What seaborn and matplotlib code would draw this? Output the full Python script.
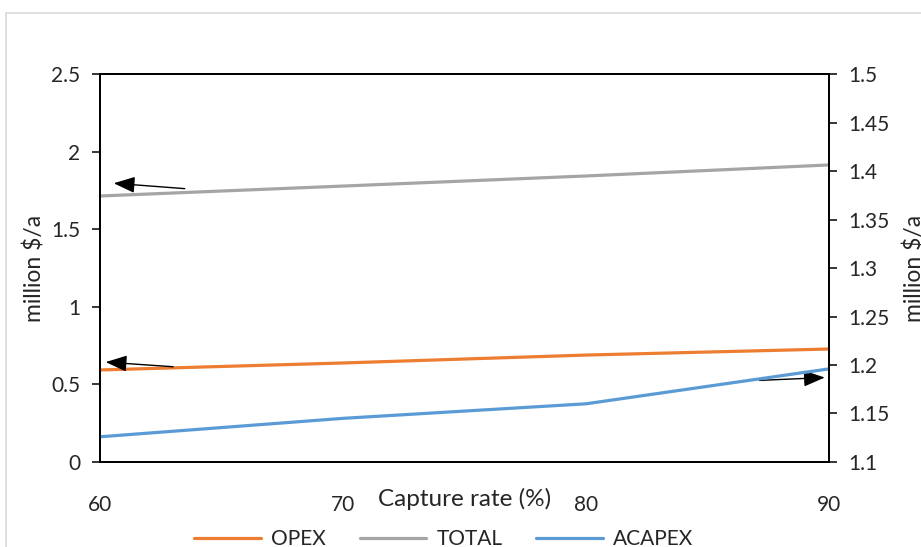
import matplotlib
matplotlib.use("Agg")
import matplotlib.pyplot as plt
import seaborn as sns
import pandas as pd
from matplotlib.patches import Rectangle

capture_rate = [60, 70, 80, 90]
opex = [0.593, 0.638, 0.689, 0.728]
total = [1.714, 1.778, 1.843, 1.914]
acapex = [1.126, 1.145, 1.160, 1.196]

x_ticks = [60, 70, 80, 90]
left_ticks = [0, 0.5, 1, 1.5, 2, 2.5]
left_labels = ["0", "0.5", "1", "1.5", "2", "2.5"]
right_ticks = [1.1, 1.15, 1.2, 1.25, 1.3, 1.35, 1.4, 1.45, 1.5]
right_labels = ["1.1", "1.15", "1.2", "1.25", "1.3", "1.35", "1.4", "1.45", "1.5"]

df = pd.DataFrame({"rate": capture_rate, "OPEX": opex, "TOTAL": total, "ACAPEX": acapex})

sns.set_style("white")
plt.rcParams["font.family"] = ["Lato", "DejaVu Sans"]

fig = plt.figure(figsize=(9.21, 5.47), dpi=100)
ax = fig.add_axes([0.1086, 0.1554, 0.7915, 0.7093])
ax2 = ax.twinx()

# light frame of the chart area
fig.patches.append(Rectangle((6 / 921, -0.1), 1.1, 1 - 13 / 547 + 0.1, transform=fig.transFigure,
                             fill=False, edgecolor="#d9d9d9", linewidth=1.2))

sns.lineplot(data=df, x="rate", y="OPEX", ax=ax, color="#ED7D31", linewidth=2.3, label="OPEX", legend=False)
sns.lineplot(data=df, x="rate", y="TOTAL", ax=ax, color="#A5A5A5", linewidth=2.3, label="TOTAL", legend=False)
sns.lineplot(data=df, x="rate", y="ACAPEX", ax=ax2, color="#5B9BD5", linewidth=2.3, label="ACAPEX", legend=False)

ax.set_xlim(60, 90)
ax.set_ylim(0, 2.5)
ax2.set_ylim(1.1, 1.5)
ax.set_xticks(x_ticks)
ax.set_yticks(left_ticks)
ax.set_yticklabels(left_labels)
ax2.set_yticks(right_ticks)
ax2.set_yticklabels(right_labels)

for a in (ax, ax2):
    for s in a.spines.values():
        s.set_color("black")
        s.set_linewidth(1.3)

ax.tick_params(axis="x", length=0, pad=24, labelsize=15)
ax.tick_params(axis="y", direction="out", length=6, width=1.3, left=True, labelsize=15, pad=8)
ax2.tick_params(axis="y", direction="out", length=6, width=1.3, right=True, labelsize=15, pad=8)

ax.set_xlabel("Capture rate (%)", fontsize=17.5, labelpad=-20)
ax.set_ylabel("million $/a", fontsize=16.5, labelpad=4)
ax2.set_ylabel("million $/a", fontsize=16.5, labelpad=10)

arrow = dict(arrowstyle="-|>,head_length=1.3,head_width=0.5", color="black", lw=1)
ax.annotate("", xy=(0.015, 0.719), xytext=(0.12, 0.704), xycoords="axes fraction",
            textcoords="axes fraction", arrowprops=arrow)
ax.annotate("", xy=(0.004, 0.258), xytext=(0.104, 0.245), xycoords="axes fraction",
            textcoords="axes fraction", arrowprops=arrow)
ax.annotate("", xy=(0.998, 0.218), xytext=(0.901, 0.21), xycoords="axes fraction",
            textcoords="axes fraction", arrowprops=arrow)

handles = ax.get_lines() + ax2.get_lines()
fig.legend(handles, ["OPEX", "TOTAL", "ACAPEX"], loc="center", bbox_to_anchor=(0.482, 0.014),
           ncol=3, frameon=False, fontsize=15, handlelength=3.2, handletextpad=0.5, columnspacing=1.6)

fig.savefig("out.png", dpi=100)
